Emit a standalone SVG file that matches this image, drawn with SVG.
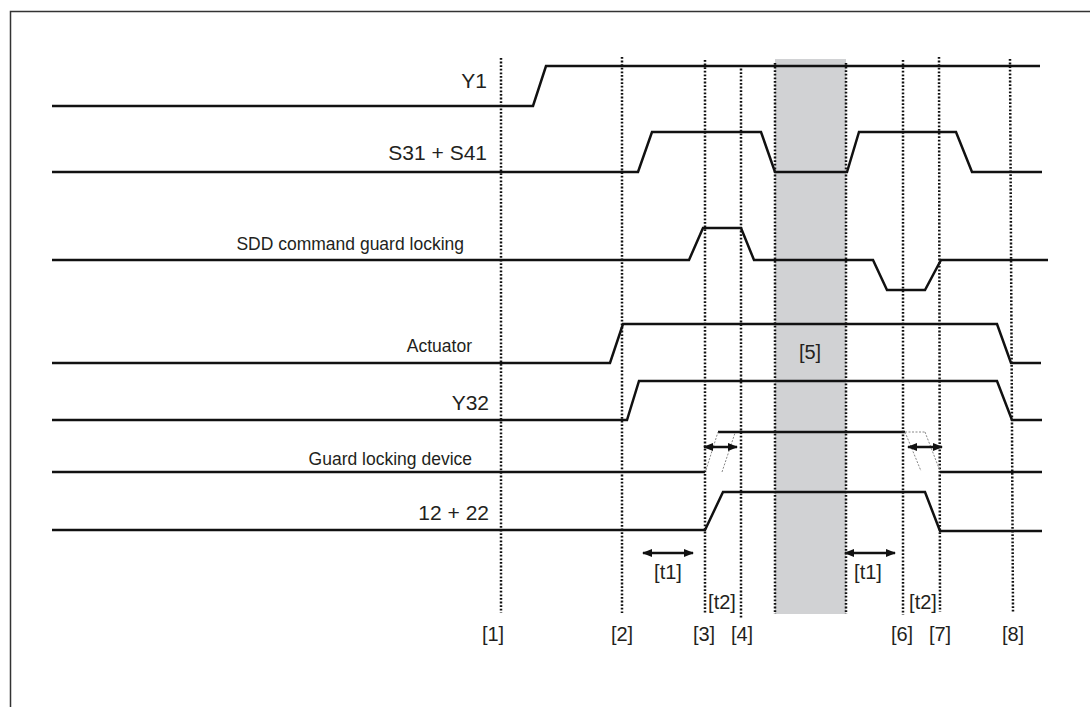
<svg xmlns="http://www.w3.org/2000/svg" width="1090" height="707" viewBox="0 0 1090 707">
<style>
.sig{fill:none;stroke:#111;stroke-width:2.5;stroke-linejoin:miter}
.dot{fill:none;stroke:#111;stroke-width:2.5;stroke-dasharray:1.8 1.8}
.thin{fill:none;stroke:#888;stroke-width:1;stroke-dasharray:2 1.5}
.arr{fill:none;stroke:#111;stroke-width:2.5;marker-start:url(#ah);marker-end:url(#ah)}
.big{font-family:"Liberation Sans",Arial,sans-serif;font-size:21px;fill:#231f20;text-anchor:end}
.sm{font-family:"Liberation Sans",Arial,sans-serif;font-size:17.5px;fill:#231f20;text-anchor:end}
.lb{font-family:"Liberation Sans",Arial,sans-serif;font-size:20px;fill:#231f20;text-anchor:middle}
</style>
<defs>
<marker id="ah" viewBox="0 0 10 8" refX="9" refY="4" markerWidth="10" markerHeight="8" markerUnits="userSpaceOnUse" orient="auto-start-reverse">
<path d="M0,0 L10,4 L0,8 Z" fill="#111"/>
</marker>
</defs>
<rect x="0" y="0" width="1090" height="707" fill="#fff"/>
<rect x="10.5" y="11.5" width="1200" height="800" fill="none" stroke="#333" stroke-width="1.5"/>
<g id="phase5">
<rect x="775" y="59" width="71" height="555" fill="#d1d2d4"/>
<text class="lb" x="810" y="359">[5]</text>
</g>
<g id="markers">
<line class="dot" x1="501" y1="58" x2="501" y2="613"/>
<line class="dot" x1="622" y1="57" x2="622" y2="613"/>
<line class="dot" x1="705" y1="60" x2="705" y2="613"/>
<line class="dot" x1="741" y1="65" x2="741" y2="619"/>
<line class="dot" x1="775" y1="63" x2="775" y2="614"/>
<line class="dot" x1="846" y1="63" x2="846" y2="614"/>
<line class="dot" x1="903" y1="60" x2="903" y2="615"/>
<line class="dot" x1="939" y1="57" x2="940" y2="612"/>
<line class="dot" x1="1010" y1="59" x2="1013" y2="613"/>
<text class="lb" x="493" y="641">[1]</text>
<text class="lb" x="622" y="641">[2]</text>
<text class="lb" x="704" y="641">[3]</text>
<text class="lb" x="742" y="641">[4]</text>
<text class="lb" x="902" y="641">[6]</text>
<text class="lb" x="940" y="641">[7]</text>
<text class="lb" x="1013" y="641">[8]</text>
</g>
<g id="y1">
<text class="big" x="487" y="88">Y1</text>
<path class="sig" d="M52,106 H533 L546,66 H1040"/>
</g>
<g id="s31s41">
<text class="big" x="487" y="160">S31 + S41</text>
<path class="sig" d="M52,172 H638 L652,132 H761 L775,172 H847 L859,132 H956 L972,172 H1042"/>
</g>
<g id="sdd">
<text class="sm" x="464" y="250">SDD command guard locking</text>
<path class="sig" d="M52,260 H689 L703,228 H741 L754,260 H873 L887,290 H925 L941,260 H1048"/>
</g>
<g id="actuator">
<text class="sm" x="472" y="352">Actuator</text>
<path class="sig" d="M52,363 H610 L623,324 H997 L1011,363 H1041"/>
</g>
<g id="y32">
<text class="big" x="489" y="410">Y32</text>
<path class="sig" d="M52,420 H627 L639,381 H997 L1012,420 H1042"/>
</g>
<g id="gld">
<text class="sm" x="472" y="465">Guard locking device</text>
<path class="sig" d="M52,472 H705 M718,432 H905 M940,472 H1042"/>
<path class="thin" d="M706,470 L718,432 M722,472 L735,433 M905,432 H925 M905,432 L921,471 M925,432 L940,471"/>
</g>
<g id="c1222">
<text class="big" x="489" y="520">12 + 22</text>
<path class="sig" d="M52,530 H705 L723,492 H925 L940,531 H1042"/>
</g>
<g id="connectors">
<line class="arr" x1="643" y1="553" x2="693" y2="553"/>
<line class="arr" x1="845" y1="553" x2="895" y2="553"/>
<line class="arr" x1="704" y1="447" x2="737" y2="447"/>
<line class="arr" x1="908" y1="447" x2="942" y2="447"/>
<text class="lb" x="668" y="579">[t1]</text>
<text class="lb" x="868" y="579">[t1]</text>
<text class="lb" x="722" y="609">[t2]</text>
<text class="lb" x="923" y="609">[t2]</text>
</g>
</svg>
